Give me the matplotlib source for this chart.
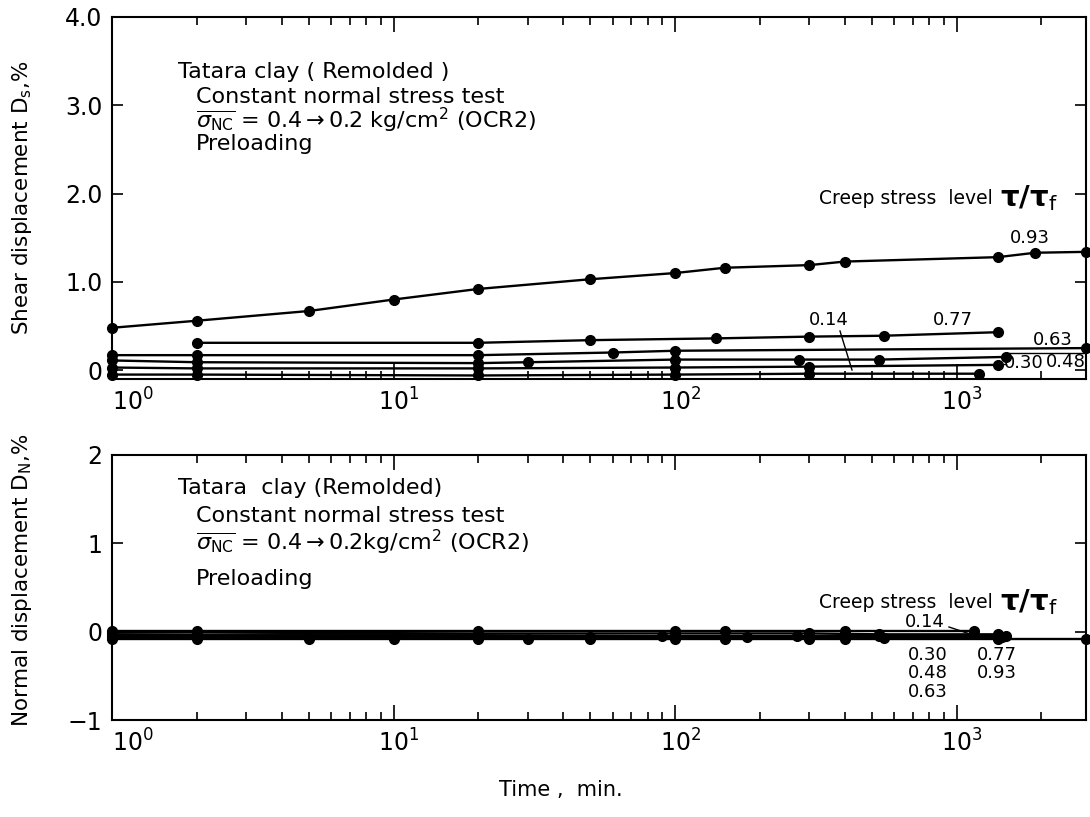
import matplotlib
matplotlib.use("Agg")
import matplotlib.pyplot as plt
import matplotlib.transforms as mtransforms
from matplotlib.lines import Line2D
from matplotlib.ticker import LogLocator, NullFormatter

plt.rcParams["font.family"] = ["DejaVu Sans"]
plt.rcParams["mathtext.fontset"] = "dejavusans"

W, H, DPI = 1090, 817, 100

# ---------------- data ----------------
levels = ["0.14", "0.30", "0.48", "0.63", "0.77", "0.93"]

# Shear displacement Ds (%) against time (min)
ds_time_014 = [1, 2, 20, 100, 300, 1200]
ds_val_014 = [-0.05, -0.05, -0.06, -0.05, -0.04, -0.04]
ds_time_030 = [1, 2, 20, 100, 300, 1400]
ds_val_030 = [0.03, 0.02, 0.02, 0.03, 0.04, 0.06]
ds_time_048 = [1, 2, 20, 30, 100, 275, 530, 1500]
ds_val_048 = [0.11, 0.09, 0.08, 0.09, 0.12, 0.12, 0.12, 0.15]
ds_time_063 = [1, 2, 20, 60, 100, 2880]
ds_val_063 = [0.17, 0.17, 0.17, 0.20, 0.22, 0.25]
ds_time_077 = [2, 20, 50, 140, 300, 550, 1400]
ds_val_077 = [0.31, 0.31, 0.34, 0.36, 0.38, 0.39, 0.43]
ds_time_093 = [1, 2, 5, 10, 20, 50, 100, 150, 300, 400, 1400, 1900, 2880]
ds_val_093 = [0.48, 0.56, 0.67, 0.80, 0.92, 1.03, 1.10, 1.16, 1.19, 1.23, 1.28, 1.33, 1.34]

# Normal displacement DN (%) against time (min)
dn_time_014 = [1, 2, 20, 100, 150, 400, 1150]
dn_val_014 = [0.01, 0.01, 0.01, 0.01, 0.01, 0.01, 0.01]
dn_time_030 = [1, 2, 20, 100, 300, 530, 1400]
dn_val_030 = [-0.01, -0.01, -0.02, -0.02, -0.02, -0.03, -0.03]
dn_time_048 = [1, 2, 20, 90, 270, 530, 1500]
dn_val_048 = [-0.03, -0.04, -0.04, -0.05, -0.05, -0.05, -0.05]
dn_time_063 = [1, 2, 5, 20, 50, 180, 400, 1450]
dn_val_063 = [-0.05, -0.05, -0.06, -0.06, -0.06, -0.06, -0.06, -0.06]
dn_time_077 = [1, 2, 20, 50, 150, 300, 550, 1400]
dn_val_077 = [-0.06, -0.06, -0.07, -0.07, -0.07, -0.07, -0.07, -0.07]
dn_time_093 = [1, 2, 5, 10, 20, 30, 50, 100, 150, 300, 400, 1400, 2880]
dn_val_093 = [-0.08, -0.08, -0.08, -0.08, -0.08, -0.08, -0.08, -0.08, -0.08, -0.08, -0.08, -0.08, -0.08]

ds_series = [(ds_time_014, ds_val_014), (ds_time_030, ds_val_030),
             (ds_time_048, ds_val_048), (ds_time_063, ds_val_063),
             (ds_time_077, ds_val_077), (ds_time_093, ds_val_093)]
dn_series = [(dn_time_014, dn_val_014), (dn_time_030, dn_val_030),
             (dn_time_048, dn_val_048), (dn_time_063, dn_val_063),
             (dn_time_077, dn_val_077), (dn_time_093, dn_val_093)]

x_ticks = [1, 10, 100, 1000]
x_tick_labels = [r"$10^{0}$", r"$10^{1}$", r"$10^{2}$", r"$10^{3}$"]
ds_ticks = [0, 1, 2, 3, 4]
ds_tick_labels = ["0", "1.0", "2.0", "3.0", "4.0"]
dn_ticks = [-1, 0, 1, 2]
dn_tick_labels = ["\u22121", "0", "1", "2"]


def fx(px):
    return px / W


def fy(py):
    return 1 - py / H


fig = plt.figure(figsize=(W / DPI, H / DPI), dpi=DPI)
fig.patch.set_facecolor("white")

ax1 = fig.add_axes([fx(112), fy(379), (1086 - 112) / W, (379 - 17) / H])
ax2 = fig.add_axes([fx(112), fy(720), (1086 - 112) / W, (720 - 455) / H])


def style_axes(ax, ylim, yticks, ylabels):
    ax.set_xscale("log")
    ax.set_xlim(1, 2880)
    ax.set_ylim(*ylim)
    ax.set_xticks(x_ticks)
    ax.set_xticklabels(x_tick_labels)
    ax.xaxis.set_minor_locator(LogLocator(base=10, subs=range(2, 10), numticks=20))
    ax.xaxis.set_minor_formatter(NullFormatter())
    ax.set_yticks(yticks)
    ax.set_yticklabels(ylabels)
    ax.tick_params(which="both", direction="in", top=True, right=True,
                   width=1.2, color="black")
    ax.tick_params(axis="x", which="major", length=11, labelsize=17, pad=7)
    ax.tick_params(axis="x", which="minor", length=6)
    ax.tick_params(axis="y", which="major", length=8, labelsize=17, pad=7)
    for s in ax.spines.values():
        s.set_linewidth(1.5)
    labels = ax.get_xticklabels()
    labels[0].set_horizontalalignment("left")
    shift = mtransforms.ScaledTranslation(5 / DPI, 0, fig.dpi_scale_trans)
    for lab in labels[1:]:
        lab.set_transform(lab.get_transform() + shift)


style_axes(ax1, (-0.10, 4.0), ds_ticks, ds_tick_labels)
style_axes(ax2, (-1.0, 2.0), dn_ticks, dn_tick_labels)

for t, v in ds_series:
    ax1.plot(t, v, "-o", color="black", lw=1.7, ms=7, clip_on=False, zorder=3)
for t, v in dn_series:
    ax2.plot(t, v, "-o", color="black", lw=1.7, ms=7, clip_on=False, zorder=3)

# ---------------- annotations ----------------
desc = dict(fontsize=16, va="center", ha="left")
fig.text(fx(178), fy(72), "Tatara clay ( Remolded )", **desc)
fig.text(fx(196), fy(97), "Constant normal stress test", **desc)
fig.text(fx(196), fy(120), r"$\overline{\sigma_{\rm NC}}$ = 0.4$\rightarrow$0.2 kg/cm$^{2}$ (OCR2)", **desc)
fig.text(fx(196), fy(144), "Preloading", **desc)

fig.text(fx(178), fy(488), "Tatara  clay (Remolded)", **desc)
fig.text(fx(196), fy(516), "Constant normal stress test", **desc)
fig.text(fx(196), fy(542), r"$\overline{\sigma_{\rm NC}}$ = 0.4$\rightarrow$0.2kg/cm$^{2}$ (OCR2)", **desc)
fig.text(fx(196), fy(579), "Preloading", **desc)

for py in (198, 602):
    fig.text(fx(993), fy(py), "Creep stress  level", fontsize=13.5, ha="right", va="center")
    fig.text(fx(1000), fy(py), "\u03c4/\u03c4$_{\\rm f}$", fontsize=21, fontweight="bold",
             ha="left", va="center")

val = dict(fontsize=13, ha="center", va="center")
# shear panel labels
fig.text(fx(1030), fy(238), levels[5], **val)
fig.text(fx(953), fy(320), levels[4], **val)
fig.text(fx(829), fy(320), levels[0], **val)
fig.text(fx(1053), fy(340), levels[3], **val)
fig.text(fx(1024), fy(363), levels[1], **val)
fig.text(fx(1066), fy(362), levels[2], **val)
fig.add_artist(Line2D([fx(840), fx(852)], [fy(331), fy(370)], color="black", lw=1))
fig.add_artist(Line2D([fx(998), fx(1006)], [fy(364), fy(364)], color="black", lw=1))
fig.add_artist(Line2D([fx(1006), fx(1084)], [fy(353), fy(353)], color="black", lw=1))

# normal panel labels
fig.text(fx(925), fy(622), levels[0], **val)
fig.text(fx(928), fy(655), levels[1], **val)
fig.text(fx(928), fy(673), levels[2], **val)
fig.text(fx(928), fy(692), levels[3], **val)
fig.text(fx(997), fy(655), levels[4], **val)
fig.text(fx(997), fy(673), levels[5], **val)
fig.add_artist(Line2D([fx(949), fx(973)], [fy(627), fy(635)], color="black", lw=1))

# axis titles
fig.text(fx(22), fy(198), r"Shear displacement D$_{\rm s}$,%", rotation=90,
         fontsize=15.5, ha="center", va="center")
fig.text(fx(22), fy(580), r"Normal displacement D$_{\rm N}$,%", rotation=90,
         fontsize=15.5, ha="center", va="center")
fig.text(fx(623), fy(790), "Time ,  min.", fontsize=15, ha="right", va="center")

fig.savefig("out.png", dpi=DPI, facecolor="white")
